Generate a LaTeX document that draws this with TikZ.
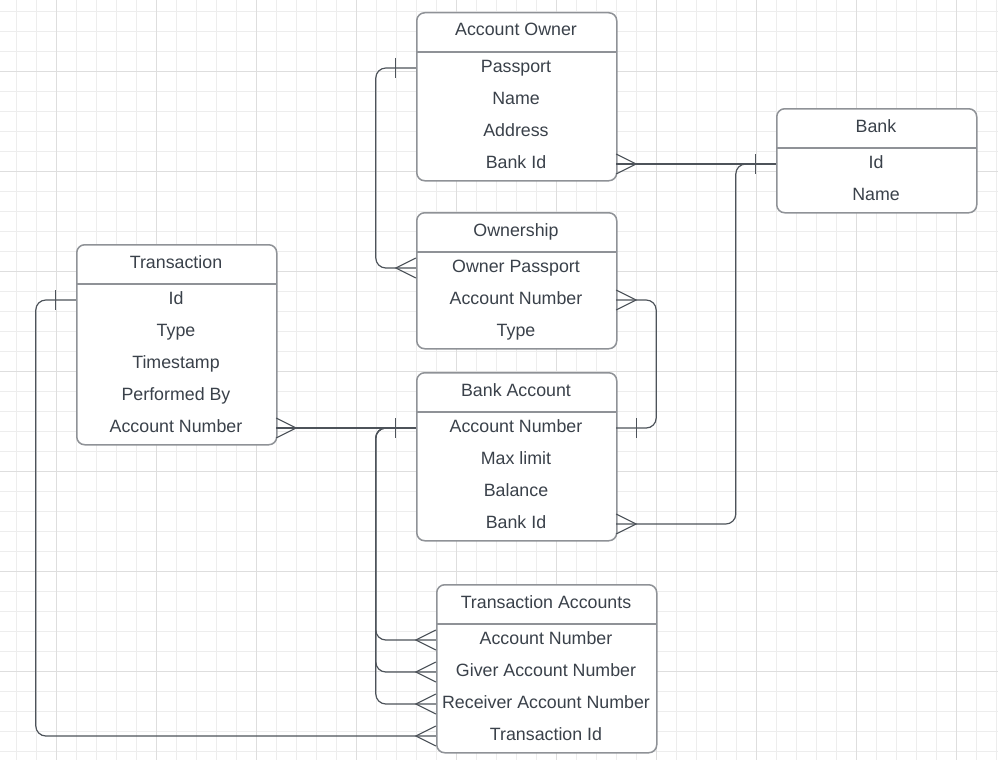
\documentclass[tikz,border=0pt]{standalone}
\usepackage{fontspec}
\setmainfont{Liberation Sans}
\definecolor{gridminor}{HTML}{EDEDED}
\definecolor{gridmajor}{HTML}{DEDEDE}
\definecolor{boxline}{HTML}{8F9297}
\definecolor{txt}{HTML}{3A414A}
\definecolor{connc}{HTML}{4D535A}
\begin{document}
\begin{tikzpicture}[x=1pt,y=-1pt,
  ent/.style={draw=boxline, line width=1.5, fill=white, rounded corners=8, inner sep=0, anchor=north west},
  sep/.style={draw=boxline, line width=1.5},
  row/.style={inner sep=0, minimum height=32, text height=13, text depth=4, text=txt, font=\fontsize{17.8}{20}\selectfont},
  cn/.style={draw=connc, line width=1.2, rounded corners=10},
  tipline/.style={draw=connc, line width=1.1},
  crowE/.pic={\draw[tipline] (0,-10) -- (20,0) -- (0,10);},
  crowW/.pic={\draw[tipline] (0,-10) -- (-20,0) -- (0,10);},
  barE/.pic={\draw[tipline] (20,-10) -- (20,10);},
  barW/.pic={\draw[tipline] (-20,-10) -- (-20,10);}
]
\fill[white] (0,0) rectangle (998,760);
\useasboundingbox (0,0) rectangle (998,760);
% grid
\foreach \i in {0,...,49} {\draw[gridminor, line width=1] ({16.5+20*\i},0) -- ({16.5+20*\i},760);}
\foreach \i in {0,...,37} {\draw[gridminor, line width=1] (0,{11.5+20*\i}) -- (998,{11.5+20*\i});}
\foreach \i in {0,...,9} {\draw[gridmajor, line width=1] ({56.5+100*\i},0) -- ({56.5+100*\i},760);}
\foreach \i in {0,...,6} {\draw[gridmajor, line width=1] (0,{71.5+100*\i}) -- (998,{71.5+100*\i});}

% Account Owner
\node[ent, minimum width=200, minimum height=168] (ao) at (416,12) {};
\draw[sep] (ao.north west) ++(0,40) -- ++(200,0);
\node[row, minimum width=200] (ao-h) at (516,31.5) {Account Owner};
\node[row, minimum width=200] (ao-pp) at (516,68) {Passport};
\node[row, minimum width=200] (ao-nm) at (516,100) {Name};
\node[row, minimum width=200] (ao-ad) at (516,132) {Address};
\node[row, minimum width=200] (ao-bid) at (516,164) {Bank Id};

% Bank
\node[ent, minimum width=200, minimum height=104] (bk) at (776,108) {};
\draw[sep] (bk.north west) ++(0,40) -- ++(200,0);
\node[row, minimum width=200] (bk-h) at (876,127.5) {Bank};
\node[row, minimum width=200] (bk-id) at (876,164) {Id};
\node[row, minimum width=200] (bk-nm) at (876,196) {Name};

% Ownership
\node[ent, minimum width=200, minimum height=136] (ow) at (416,212) {};
\draw[sep] (ow.north west) ++(0,40) -- ++(200,0);
\node[row, minimum width=200] (ow-h) at (516,231.5) {Ownership};
\node[row, minimum width=200] (ow-op) at (516,268) {Owner Passport};
\node[row, minimum width=200] (ow-an) at (516,300) {Account Number};
\node[row, minimum width=200] (ow-ty) at (516,332) {Type};

% Transaction
\node[ent, minimum width=200, minimum height=200] (tr) at (76,244) {};
\draw[sep] (tr.north west) ++(0,40) -- ++(200,0);
\node[row, minimum width=200] (tr-h) at (176,263.5) {Transaction};
\node[row, minimum width=200] (tr-id) at (176,300) {Id};
\node[row, minimum width=200] (tr-ty) at (176,332) {Type};
\node[row, minimum width=200] (tr-ts) at (176,364) {Timestamp};
\node[row, minimum width=200] (tr-pb) at (176,396) {Performed By};
\node[row, minimum width=200] (tr-an) at (176,428) {Account Number};

% Bank Account
\node[ent, minimum width=200, minimum height=168] (ba) at (416,372) {};
\draw[sep] (ba.north west) ++(0,40) -- ++(200,0);
\node[row, minimum width=200] (ba-h) at (516,391.5) {Bank Account};
\node[row, minimum width=200] (ba-an) at (516,428) {Account Number};
\node[row, minimum width=200] (ba-ml) at (516,460) {Max limit};
\node[row, minimum width=200] (ba-bl) at (516,492) {Balance};
\node[row, minimum width=200] (ba-bid) at (516,524) {Bank Id};

% Transaction Accounts
\node[ent, minimum width=220, minimum height=168] (ta) at (436,584) {};
\draw[sep] (ta.north west) ++(0,40) -- ++(220,0);
\node[row, minimum width=220] (ta-h) at (546,603.5) {Transaction Accounts};
\node[row, minimum width=220] (ta-an) at (546,640) {Account Number};
\node[row, minimum width=220] (ta-gan) at (546,672) {Giver Account Number};
\node[row, minimum width=220] (ta-ran) at (546,704) {Receiver Account Number};
\node[row, minimum width=220] (ta-tid) at (546,736) {Transaction Id};

% connectors
\draw[cn] (ao-pp.west) -- ++(-40,0) |- (ow-op.west);
\draw[cn] (ao-bid.east) -- (bk-id.west);
\draw[cn] (bk-id.west) -- ++(-40,0) |- (ba-bid.east);
\draw[cn] (ow-an.east) -- ++(40,0) |- (ba-an.east);
\draw[cn] (tr-an.east) -- (ba-an.west);
\draw[cn] (ba-an.west) -- ++(-40,0) |- (ta-an.west);
\draw[cn] (ba-an.west) -- ++(-40,0) |- (ta-gan.west);
\draw[cn] (ba-an.west) -- ++(-40,0) |- (ta-ran.west);
\draw[cn] (tr-id.west) -- ++(-40,0) |- (ta-tid.west);

% crow's feet
\pic at (ow-op.west) {crowW};
\pic at (ao-bid.east) {crowE};
\pic at (ba-bid.east) {crowE};
\pic at (ow-an.east) {crowE};
\pic at (tr-an.east) {crowE};
\pic at (ta-an.west) {crowW};
\pic at (ta-gan.west) {crowW};
\pic at (ta-ran.west) {crowW};
\pic at (ta-tid.west) {crowW};
% single bars
\pic at (ao-pp.west) {barW};
\pic at (bk-id.west) {barW};
\pic at (ba-an.east) {barE};
\pic at (ba-an.west) {barW};
\pic at (tr-id.west) {barW};
\end{tikzpicture}
\end{document}
